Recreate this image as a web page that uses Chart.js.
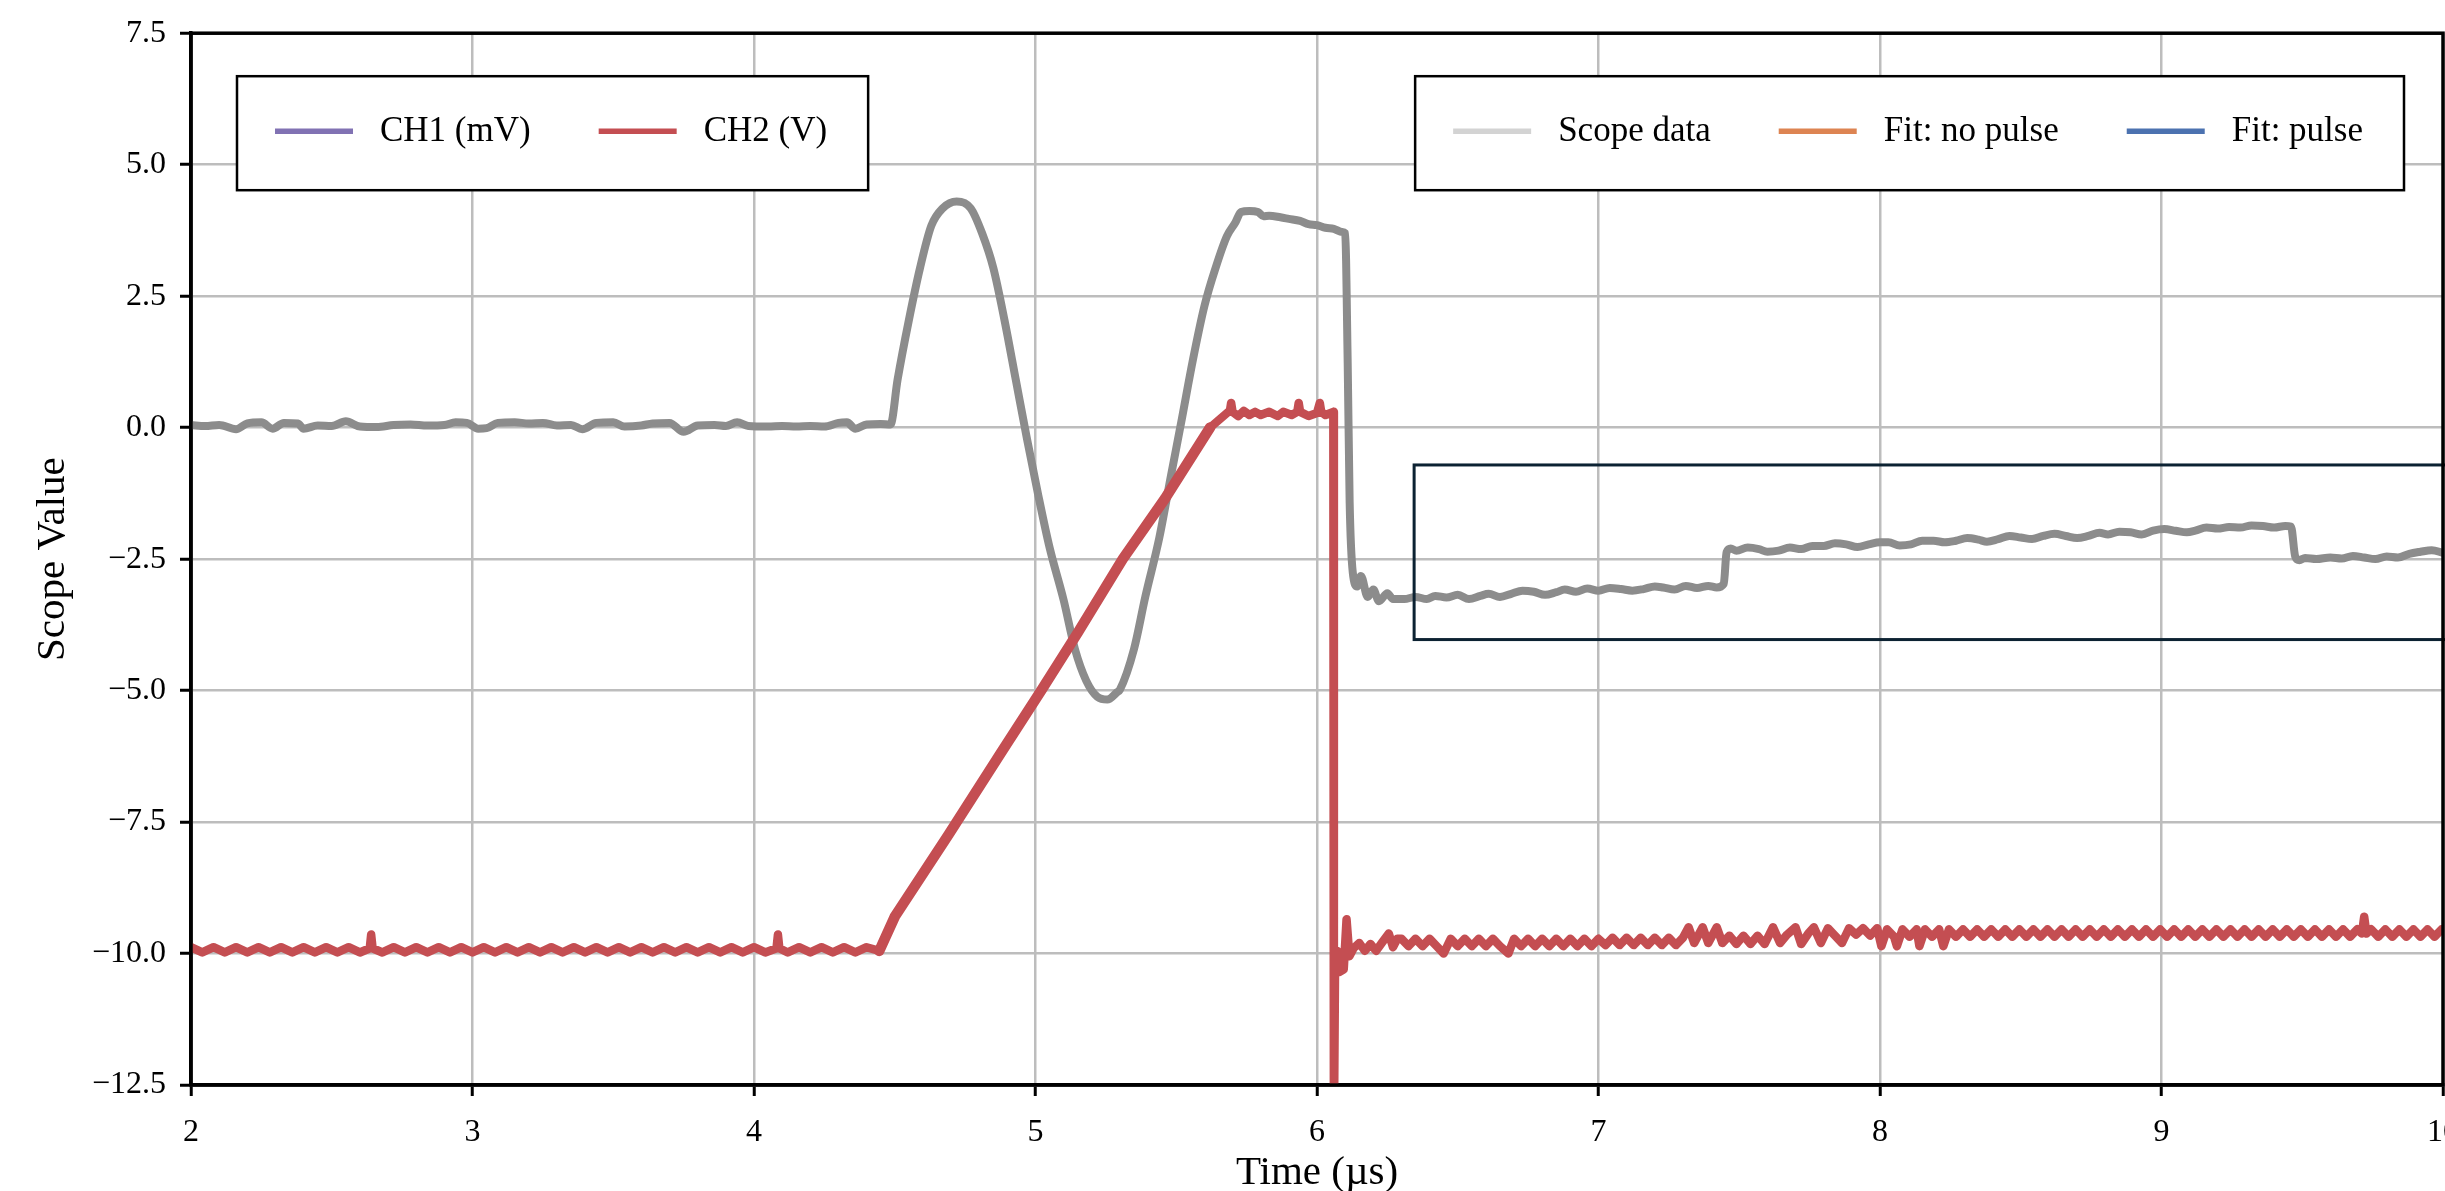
<!DOCTYPE html>
<html><head><meta charset="utf-8">
<script src="https://cdn.jsdelivr.net/npm/chart.js"></script>
<style>
html,body{margin:0;padding:0;background:#fff;overflow:hidden;width:2445px;height:1191px;}
canvas{display:block;}
</style></head><body>
<canvas id="c" width="2500" height="1191" style="width:2500px;height:1191px"></canvas>
<script>
// ---- data ----
const xTicks = [2, 3, 4, 5, 6, 7, 8, 9, 10];
const yTicks = [-12.5, -10, -7.5, -5, -2.5, 0, 2.5, 5, 7.5];

const grayTrace = [
[2.00,0.05],[2.05,0.03],[2.10,0.05],[2.16,-0.03],[2.20,0.08],[2.25,0.10],[2.29,-0.02],[2.33,0.09],[2.38,0.08],[2.40,-0.02],[2.45,0.04],[2.50,0.03],[2.55,0.12],[2.60,0.02],[2.66,0.01],[2.72,0.05],[2.78,0.06],[2.84,0.04],[2.90,0.05],[2.94,0.10],[2.98,0.09],[3.02,-0.02],[3.05,-0.01],[3.09,0.09],[3.15,0.10],[3.20,0.08],[3.25,0.09],[3.30,0.04],[3.35,0.05],[3.39,-0.03],[3.44,0.09],[3.50,0.10],[3.54,0.02],[3.60,0.04],[3.64,0.08],[3.70,0.09],[3.75,-0.08],[3.80,0.04],[3.86,0.05],[3.90,0.03],[3.94,0.10],[3.98,0.03],[4.05,0.02],[4.10,0.03],[4.15,0.02],[4.20,0.03],[4.25,0.02],[4.30,0.09],[4.33,0.10],[4.36,-0.02],[4.40,0.06],[4.45,0.07],[4.485,0.06],
[4.51,0.91],[4.55,2.04],[4.59,3.04],[4.63,3.84],[4.67,4.17],[4.72,4.30],[4.77,4.17],[4.81,3.70],[4.85,3.04],[4.89,2.04],[4.93,0.91],[4.97,-0.22],[5.01,-1.29],[5.05,-2.28],[5.10,-3.28],[5.14,-4.21],[5.18,-4.81],[5.22,-5.12],[5.255,-5.17],[5.29,-5.03],[5.30,-4.98],[5.35,-4.21],[5.39,-3.22],[5.44,-2.09],[5.48,-0.95],[5.52,0.17],[5.56,1.31],[5.60,2.31],[5.64,3.04],[5.68,3.64],[5.71,3.90],[5.73,4.10],[5.76,4.12],[5.79,4.10],[5.81,4.02],[5.83,4.03],[5.87,4.00],[5.90,3.97],[5.94,3.93],[5.97,3.87],[6.00,3.85],[6.03,3.80],[6.06,3.78],[6.09,3.72],[6.10,3.70],[6.109,1.24],[6.116,-1.42],[6.127,-2.75],[6.143,-3.02],[6.156,-2.82],[6.18,-3.22],[6.20,-3.08],[6.22,-3.30],[6.25,-3.15],[6.27,-3.26],
[6.31,-3.26],[6.35,-3.22],[6.39,-3.26],[6.42,-3.20],[6.46,-3.23],[6.50,-3.18],[6.54,-3.26],[6.58,-3.20],[6.61,-3.16],[6.65,-3.22],[6.69,-3.16],[6.73,-3.10],[6.77,-3.12],[6.81,-3.18],[6.85,-3.13],[6.88,-3.08],[6.92,-3.12],[6.96,-3.06],[7.00,-3.10],[7.04,-3.05],[7.08,-3.07],[7.12,-3.10],[7.16,-3.07],[7.20,-3.02],[7.23,-3.04],[7.27,-3.08],[7.31,-3.01],[7.35,-3.05],[7.39,-3.01],[7.42,-3.04],[7.445,-2.97],[7.455,-2.37],[7.47,-2.30],[7.49,-2.34],[7.53,-2.28],[7.57,-2.31],[7.60,-2.36],[7.64,-2.34],[7.68,-2.28],[7.72,-2.31],[7.76,-2.25],[7.80,-2.25],[7.84,-2.20],[7.88,-2.22],[7.92,-2.27],[7.96,-2.22],[8.00,-2.18],[8.03,-2.18],[8.07,-2.24],[8.11,-2.22],[8.15,-2.15],[8.19,-2.15],[8.23,-2.18],[8.27,-2.15],[8.31,-2.10],[8.35,-2.13],[8.38,-2.17],[8.42,-2.12],[8.46,-2.06],[8.50,-2.09],[8.54,-2.12],[8.58,-2.06],[8.62,-2.02],[8.66,-2.06],[8.70,-2.10],[8.74,-2.06],[8.78,-2.00],[8.81,-2.03],[8.85,-1.98],[8.89,-1.99],[8.93,-2.03],[8.97,-1.96],[9.01,-1.93],[9.05,-1.96],[9.09,-1.99],[9.12,-1.96],[9.16,-1.90],[9.20,-1.92],[9.24,-1.89],[9.28,-1.90],[9.32,-1.86],[9.36,-1.87],[9.40,-1.90],[9.44,-1.87],[9.46,-1.88],[9.475,-2.45],[9.49,-2.52],[9.51,-2.48],[9.55,-2.50],[9.60,-2.47],[9.64,-2.49],[9.68,-2.44],[9.72,-2.47],[9.76,-2.50],[9.80,-2.45],[9.84,-2.47],[9.88,-2.40],[9.92,-2.36],[9.96,-2.33],[10.00,-2.38]
];

const redTrace = [
[2.00,-9.88],[2.04,-9.98],[2.08,-9.88],[2.12,-9.98],[2.16,-9.88],[2.20,-9.98],[2.24,-9.88],[2.28,-9.98],[2.32,-9.88],[2.36,-9.98],[2.40,-9.88],[2.44,-9.98],[2.48,-9.88],[2.52,-9.98],[2.56,-9.88],[2.60,-9.98],[2.635,-9.90],[2.64,-9.64],[2.645,-9.90],[2.68,-9.98],[2.72,-9.88],[2.76,-9.98],[2.80,-9.88],[2.84,-9.98],[2.88,-9.88],[2.92,-9.98],[2.96,-9.88],[3.00,-9.98],[3.04,-9.88],[3.08,-9.98],[3.12,-9.88],[3.16,-9.98],[3.20,-9.88],[3.24,-9.98],[3.28,-9.88],[3.32,-9.98],[3.36,-9.88],[3.40,-9.98],[3.44,-9.88],[3.48,-9.98],[3.52,-9.88],[3.56,-9.98],[3.60,-9.88],[3.64,-9.98],[3.68,-9.88],[3.72,-9.98],[3.76,-9.88],[3.80,-9.98],[3.84,-9.88],[3.88,-9.98],[3.92,-9.88],[3.96,-9.98],[4.00,-9.88],[4.04,-9.98],[4.08,-9.90],[4.085,-9.64],[4.09,-9.90],[4.12,-9.98],[4.16,-9.88],[4.20,-9.98],[4.24,-9.88],[4.28,-9.98],[4.32,-9.88],[4.36,-9.98],[4.40,-9.88],[4.445,-9.95],
[4.50,-9.30],[4.69,-7.75],[4.88,-6.16],[5.02,-5.00],[5.15,-3.90],[5.31,-2.50],[5.46,-1.35],[5.62,0.00],[5.685,0.30],
[5.69,0.30],[5.695,0.47],[5.70,0.30],[5.72,0.22],[5.74,0.32],[5.76,0.24],[5.78,0.30],[5.80,0.24],[5.83,0.30],[5.86,0.22],[5.88,0.30],[5.91,0.24],[5.93,0.30],[5.935,0.47],[5.94,0.30],[5.97,0.22],[6.00,0.28],[6.01,0.47],[6.015,0.30],[6.03,0.24],[6.058,0.30],[6.06,-13.5],
[6.064,-10.30],[6.072,-9.95],[6.08,-10.35],[6.095,-10.30],[6.105,-9.35],[6.115,-10.05],[6.13,-9.90],[6.15,-9.80],[6.17,-9.95],[6.19,-9.82],[6.21,-9.95],[6.23,-9.80],[6.255,-9.62],[6.27,-9.88],[6.285,-9.72],
[6.300,-9.72],[6.325,-9.86],[6.350,-9.72],[6.375,-9.86],[6.400,-9.72],[6.425,-9.86],[6.450,-10.00],[6.475,-9.72],[6.500,-9.86],[6.525,-9.72],[6.550,-9.86],[6.575,-9.72],[6.600,-9.86],[6.625,-9.72],[6.650,-9.86],[6.680,-10.00],[6.700,-9.72],[6.725,-9.86],[6.750,-9.72],[6.775,-9.86],[6.800,-9.72],[6.825,-9.86],[6.850,-9.72],[6.875,-9.86],[6.900,-9.72],[6.925,-9.86],[6.950,-9.72],[6.975,-9.86],[7.000,-9.72],[7.025,-9.84],[7.050,-9.70],[7.075,-9.84],[7.100,-9.70],[7.125,-9.84],[7.150,-9.70],[7.175,-9.84],[7.200,-9.70],[7.225,-9.84],[7.250,-9.70],[7.275,-9.84],[7.300,-9.70],
[7.320,-9.50],[7.340,-9.80],[7.370,-9.50],[7.390,-9.80],[7.420,-9.50],[7.440,-9.80],[7.465,-9.66],[7.490,-9.82],[7.515,-9.66],[7.540,-9.82],[7.565,-9.66],[7.590,-9.82],[7.620,-9.50],[7.645,-9.80],[7.670,-9.64],[7.700,-9.50],[7.720,-9.82],[7.745,-9.62],[7.765,-9.50],[7.790,-9.80],[7.815,-9.52],[7.840,-9.66],[7.865,-9.80],[7.890,-9.52],[7.915,-9.64],[7.940,-9.52],[7.965,-9.66],[7.990,-9.52],
[8.005,-9.86],[8.025,-9.54],[8.050,-9.68],[8.060,-9.86],[8.080,-9.54],[8.105,-9.68],[8.130,-9.54],[8.140,-9.86],[8.160,-9.54],[8.185,-9.68],[8.210,-9.54],[8.225,-9.86],[8.245,-9.54],
[8.270,-9.68],[8.295,-9.54],[8.320,-9.68],[8.345,-9.54],[8.370,-9.68],[8.395,-9.54],[8.420,-9.68],[8.445,-9.54],[8.470,-9.68],[8.495,-9.54],[8.520,-9.68],[8.545,-9.54],[8.570,-9.68],[8.595,-9.54],[8.620,-9.68],[8.645,-9.54],[8.670,-9.68],[8.695,-9.54],[8.720,-9.68],[8.745,-9.54],[8.770,-9.68],[8.795,-9.54],[8.820,-9.68],[8.845,-9.54],[8.870,-9.68],[8.895,-9.54],[8.920,-9.68],[8.945,-9.54],[8.970,-9.68],[8.995,-9.54],[9.020,-9.68],[9.045,-9.54],[9.070,-9.68],[9.095,-9.54],[9.120,-9.68],[9.145,-9.54],[9.170,-9.68],[9.195,-9.54],[9.220,-9.68],[9.245,-9.54],[9.270,-9.68],[9.295,-9.54],[9.320,-9.68],[9.345,-9.54],[9.370,-9.68],[9.395,-9.54],[9.420,-9.68],[9.445,-9.54],[9.470,-9.68],[9.495,-9.54],[9.520,-9.68],[9.545,-9.54],[9.570,-9.68],[9.595,-9.54],[9.620,-9.68],[9.645,-9.54],[9.670,-9.68],[9.695,-9.54],[9.712,-9.62],[9.720,-9.30],[9.728,-9.62],[9.745,-9.54],[9.770,-9.68],[9.795,-9.54],[9.820,-9.68],[9.845,-9.54],[9.870,-9.68],[9.895,-9.54],[9.920,-9.68],[9.945,-9.54],[9.970,-9.68],[9.995,-9.54]
];

const legendLeftLabels = ['CH1 (mV)', 'CH2 (V)'];
const legendRightLabels = ['Scope data', 'Fit: no pulse', 'Fit: pulse'];
// highlighted region: [xStart, yBottom, xEnd, yTop] in data units
const regionBox = [6.345, -4.03, 10.3, -0.71];

// ---- styles ----
const FONT = "'Liberation Serif', 'Times New Roman', serif";
const legendLeftColors = ['#8172b3', '#c44e52'];
const legendRightColors = ['#d3d3d3', '#dd8452', '#4c72b0'];

Chart.defaults.font.family = FONT;
Chart.defaults.color = '#000';

const toXY = arr => arr.map(p => ({x: p[0], y: p[1]}));

// the quantised ramp of CH2 looks thicker (staircase) than its flat parts
const rampWidth = ctx => {
  const dx = Math.abs(ctx.p1.x - ctx.p0.x), dy = Math.abs(ctx.p1.y - ctx.p0.y);
  const s = dy / (dx || 1e-6);
  return (dx > 12 && s > 1 && s < 3) ? 10.5 : undefined;
};

const datasets = [
  {label: 'CH2 trace', data: toXY(redTrace), borderColor: '#c44e52', borderWidth: 8.5, order: 0,
   borderCapStyle: 'round', segment: {borderWidth: rampWidth}},
  {label: 'Scope trace', data: toXY(grayTrace), borderColor: '#8c8c8c', borderWidth: 8, order: 1, cubicInterpolationMode: 'monotone'}
];
legendLeftLabels.forEach((l, i) => datasets.push({label: l, data: [], borderColor: legendLeftColors[i], legendBox: 'left'}));
legendRightLabels.forEach((l, i) => datasets.push({label: l, data: [], borderColor: legendRightColors[i], legendBox: 'right'}));

function drawLegendBox(ctx, items, x, y, anchorRight) {
  ctx.save();
  ctx.font = '35px ' + FONT;
  const padL = 38, padR = 41, lineLen = 78, gapText = 27, colGap = 68, h = 114;
  let w = padL + padR;
  items.forEach((it, i) => {
    w += lineLen + gapText + ctx.measureText(it.label).width + (i < items.length - 1 ? colGap : 0);
  });
  const bx = anchorRight ? x - w : x;
  ctx.fillStyle = '#fff';
  ctx.fillRect(bx, y, w, h);
  ctx.strokeStyle = '#000';
  ctx.lineWidth = 2.5;
  ctx.strokeRect(bx, y, w, h);
  let cx = bx + padL;
  const cy = y + 55;
  items.forEach(it => {
    ctx.strokeStyle = it.color;
    ctx.lineWidth = 5.5;
    ctx.lineCap = 'butt';
    ctx.beginPath(); ctx.moveTo(cx, cy); ctx.lineTo(cx + lineLen, cy); ctx.stroke();
    cx += lineLen + gapText;
    ctx.fillStyle = '#000';
    ctx.textBaseline = 'middle';
    ctx.textAlign = 'left';
    ctx.fillText(it.label, cx, cy + 1);
    cx += ctx.measureText(it.label).width + colGap;
  });
  ctx.restore();
}

const overlayPlugin = {
  id: 'overlay',
  afterDatasetsDraw(chart) {
    const {ctx, chartArea: a, scales: {x, y}} = chart;
    ctx.save();
    const x0 = x.getPixelForValue(regionBox[0]), x1 = x.getPixelForValue(regionBox[2]);
    const y0 = y.getPixelForValue(regionBox[3]), y1 = y.getPixelForValue(regionBox[1]);
    ctx.strokeStyle = '#0c2232';
    ctx.lineWidth = 3;
    ctx.strokeRect(x0, y0, x1 - x0, y1 - y0);
    ctx.restore();
    ctx.save();
    ctx.strokeStyle = '#000';
    ctx.lineWidth = 3.5;
    ctx.strokeRect(a.left, a.top, a.right - a.left, a.bottom - a.top);
    ctx.restore();
    const items = side => chart.data.datasets.filter(d => d.legendBox === side).map(d => ({label: d.label, color: d.borderColor}));
    drawLegendBox(ctx, items('left'), a.left + 46, a.top + 43, false);
    drawLegendBox(ctx, items('right'), a.right - 39, a.top + 43, true);
  }
};

new Chart(document.getElementById('c'), {
  type: 'line',
  data: {datasets},
  options: {
    responsive: false,
    animation: false,
    devicePixelRatio: 1,
    layout: {padding: {top: 29, left: 0, right: 57, bottom: 0}},
    elements: {
      point: {radius: 0, hoverRadius: 0},
      line: {tension: 0, borderJoinStyle: 'round', borderCapStyle: 'butt', fill: false}
    },
    plugins: {legend: {display: false}, tooltip: {enabled: false}},
    events: [],
    scales: {
      x: {
        type: 'linear', min: 2, max: 10,
        afterBuildTicks: s => { s.ticks = xTicks.map(v => ({value: v})); },
        afterFit: s => { s.height = 106; },
        ticks: {font: {size: 32}, padding: 17, maxRotation: 0, autoSkip: false, callback: v => String(v)},
        grid: {color: '#bdbdbd', lineWidth: 2.5, tickLength: 11, tickColor: '#000', tickWidth: 3},
        border: {display: true, color: '#000', width: 3.5},
        title: {display: true, text: 'Time (\u00b5s)', font: {size: 41, lineHeight: 0.88}, padding: {top: 0, bottom: 0}}
      },
      y: {
        type: 'linear', min: -12.5, max: 7.5,
        afterBuildTicks: s => { s.ticks = yTicks.map(v => ({value: v})); },
        afterFit: s => { s.width = 191; },
        ticks: {font: {size: 32}, padding: 14, autoSkip: false, callback: v => v.toFixed(1).replace('-', '\u2212')},
        grid: {color: '#bdbdbd', lineWidth: 2.5, tickLength: 11, tickColor: '#000', tickWidth: 3},
        border: {display: true, color: '#000', width: 3.5},
        title: {display: true, text: 'Scope Value', font: {size: 41, lineHeight: 1.2}, padding: {top: 29, bottom: 0}}
      }
    }
  },
  plugins: [overlayPlugin]
});
</script>
</body></html>
